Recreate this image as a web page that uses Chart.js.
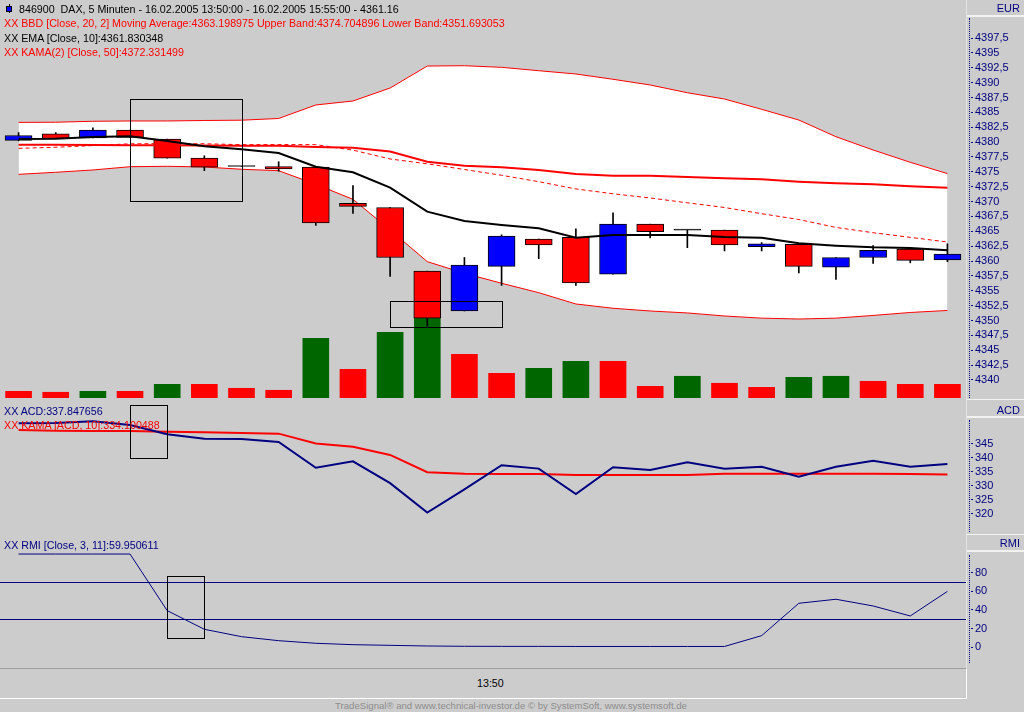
<!DOCTYPE html>
<html>
<head>
<meta charset="utf-8">
<title>846900 DAX, 5 Minuten</title>
<script src="https://cdn.jsdelivr.net/npm/chart.js@4.4.1/dist/chart.umd.min.js"></script>
<style>
  html, body { margin: 0; padding: 0; }
  body {
    width: 1024px; height: 712px; position: relative; overflow: hidden;
    background: #cccccc;
    font-family: 'Liberation Sans', Arial, sans-serif; font-size: 10.7px;
  }
  .pane { position: absolute; left: 0; width: 1024px; }
  .pane canvas { display: block; }
  .txt { position: absolute; white-space: pre; line-height: 14px; }
  .red { color: #ff0000; }
  .navy { color: #000080; }
  .black { color: #000000; }
  .headbox { position: absolute; left: 967px; width: 57px; box-sizing: border-box; }
  .head { position: absolute; right: 4px; line-height: 14px; color: #000080; font-size: 11px; }
  .dots { position: absolute; left: 969px; width: 0; border-left: 1px dotted #000080; }
</style>
</head>
<body>

<div class="pane" style="top:0px;height:398px"><canvas id="priceChart" width="1024" height="398"></canvas></div>
<div class="pane" style="top:400px;height:133px"><canvas id="acdChart" width="1024" height="133"></canvas></div>
<div class="pane" style="top:535px;height:133px"><canvas id="rmiChart" width="1024" height="133"></canvas></div>

<!-- right column -->
<div style="position:absolute;left:966px;top:0;width:1px;height:668px;background:#e4e4e4"></div>
<div class="headbox" style="top:0;height:17px;border-bottom:2px solid #f2f2f2"></div>
<div class="head" style="top:1px">EUR</div>
<div class="dots" style="top:18px;height:380px"></div>

<div class="headbox" style="top:399px;height:19px;border-top:1px solid #f2f2f2;border-bottom:2px solid #f2f2f2"></div>
<div class="head" style="top:403px">ACD</div>
<div class="dots" style="top:420px;height:112px"></div>

<div class="headbox" style="top:534px;height:18px;border-top:1px solid #f2f2f2;border-bottom:2px solid #f2f2f2"></div>
<div class="head" style="top:536px">RMI</div>
<div class="dots" style="top:555px;height:108px"></div>

<!-- legends -->
<div style="position:absolute;left:9px;top:4px;width:1px;height:9px;background:#000"></div>
<div style="position:absolute;left:6px;top:6px;width:6px;height:6px;box-sizing:border-box;background:#0000ff;border:1px solid #000"></div>
<div class="txt black" style="left:19px;top:2px">846900  DAX, 5 Minuten - 16.02.2005 13:50:00 - 16.02.2005 15:55:00 - 4361.16</div>
<div class="txt red" style="left:4px;top:16px">XX BBD [Close, 20, 2] Moving Average:4363.198975 Upper Band:4374.704896 Lower Band:4351.693053</div>
<div class="txt black" style="left:4px;top:30.5px">XX EMA [Close, 10]:4361.830348</div>
<div class="txt red" style="left:4px;top:45px">XX KAMA(2) [Close, 50]:4372.331499</div>

<div class="txt navy" style="left:4px;top:404px">XX ACD:337.847656</div>
<div class="txt red" style="left:4px;top:417.5px">XX KAMA [ACD, 10]:334.100488</div>

<div class="txt navy" style="left:4px;top:537.5px">XX RMI [Close, 3, 11]:59.950611</div>

<!-- time axis -->
<div style="position:absolute;left:0;top:668px;width:967px;height:31px;box-sizing:border-box;border-top:1px solid #a0a0a0;border-right:1px solid #ffffff;border-bottom:1px solid #ffffff"></div>
<div class="txt black" style="left:477px;top:675.5px">13:50</div>

<div style="position:absolute;left:0;top:700px;width:1022px;text-align:center;font-size:9.6px;line-height:11px;color:#8c8c8c;white-space:pre">TradeSignal® and www.technical-investor.de © by SystemSoft, www.systemsoft.de</div>

<script>
const NAVY = '#000080';
const RED = '#ff0000';
const BLUE = '#0000ff';
const GREEN = '#006600';
const FONT = "'Liberation Sans', Arial, sans-serif";

// 5 minute bars, 16.02.2005
const labels = ['13:50', '13:55', '14:00', '14:05', '14:10', '14:15', '14:20', '14:25', '14:30',
    '14:35', '14:40', '14:45', '14:50', '14:55', '15:00', '15:05', '15:10', '15:15', '15:20',
    '15:25', '15:30', '15:35', '15:40', '15:45', '15:50', '15:55'];

const opens  = [4380.3, 4381.4, 4380.7, 4382.0, 4380.5, 4377.3, 4375.9, 4375.9, 4375.8, 4369.7, 4369.0, 4358.3, 4351.6,
                4359.1, 4363.7, 4364.0, 4357.8, 4366.2, 4365.2, 4365.2, 4362.4, 4362.8, 4358.95, 4360.6, 4362.0, 4360.2];
const highs  = [4381.6, 4381.6, 4382.4, 4382.0, 4380.5, 4377.7, 4375.9, 4376.7, 4375.8, 4372.7, 4369.0, 4358.3, 4360.6,
                4364.4, 4363.7, 4365.4, 4368.1, 4366.2, 4365.2, 4365.2, 4363.1, 4362.8, 4360.6, 4362.6, 4362.0, 4362.9];
const lows   = [4380.2, 4380.6, 4380.7, 4380.8, 4377.3, 4375.2, 4375.9, 4375.1, 4366.0, 4368.0, 4357.4, 4349.0, 4351.6,
                4355.9, 4360.4, 4355.9, 4357.8, 4363.9, 4362.25, 4361.7, 4361.7, 4358.0, 4356.9, 4359.6, 4359.7, 4359.9];
const closes = [4381.1, 4380.6, 4382.0, 4380.8, 4377.3, 4375.8, 4375.9, 4375.5, 4366.4, 4369.2, 4360.6, 4350.4, 4359.3,
                4364.2, 4362.7, 4356.3, 4366.2, 4364.95, 4365.2, 4362.7, 4362.9, 4359.1, 4360.6, 4361.8, 4360.1, 4361.16];

const volumes  = [84, 72, 84, 84, 172, 172, 122, 97, 750, 360, 825, 1000, 549, 310, 373, 461, 461, 147, 273, 185, 134, 260, 273, 210, 172, 172];
const volumeUp = [0, 0, 1, 0, 1, 0, 0, 0, 1, 0, 1, 1, 0, 0, 1, 1, 0, 0, 1, 0, 0, 1, 1, 0, 0, 0];

const upperBand = [4383.31, 4383.34, 4383.50, 4383.55, 4383.55, 4383.63, 4383.68, 4383.97, 4386.24, 4386.91, 4389.09, 4392.79, 4392.84,
                   4392.57, 4392.00, 4391.45, 4390.56, 4389.60, 4388.30, 4387.24, 4385.51, 4383.71, 4380.90, 4378.67, 4376.60, 4374.70];
const lowerBand = [4374.58, 4374.92, 4375.31, 4375.86, 4375.93, 4375.81, 4375.43, 4375.19, 4372.90, 4370.38, 4365.22, 4359.90, 4357.94,
                   4356.26, 4354.68, 4352.78, 4352.06, 4351.60, 4351.27, 4350.76, 4350.40, 4350.25, 4350.40, 4350.85, 4351.35, 4351.69];
const movingAvg = [4378.95, 4379.13, 4379.41, 4379.71, 4379.74, 4379.72, 4379.56, 4379.58, 4379.57, 4378.65, 4377.16, 4376.35, 4375.39,
                   4374.42, 4373.34, 4372.12, 4371.31, 4370.60, 4369.79, 4369.00, 4367.96, 4366.98, 4365.65, 4364.76, 4363.98, 4363.20];
const kama      = [4379.55, 4379.55, 4379.53, 4379.48, 4379.45, 4379.42, 4379.40, 4379.38, 4379.17, 4379.05, 4378.40, 4376.70, 4376.03,
                   4375.76, 4375.30, 4374.64, 4374.35, 4374.35, 4374.13, 4373.91, 4373.74, 4373.34, 4373.07, 4372.90, 4372.57, 4372.33];
const ema       = [4380.52, 4380.57, 4380.86, 4380.97, 4380.18, 4379.30, 4378.79, 4378.17, 4375.86, 4374.92, 4372.33, 4368.30, 4366.73,
                   4366.06, 4365.50, 4363.93, 4364.38, 4364.38, 4364.38, 4364.04, 4363.93, 4362.98, 4362.58, 4362.31, 4362.20, 4361.83];

const acd     = [352.4, 352.5, 353.1, 351.8, 348.5, 346.9, 346.8, 345.7, 336.5, 338.8, 331.0, 320.5, 328.8,
                 337.4, 336.2, 327.1, 336.7, 335.7, 338.5, 336.2, 336.9, 333.3, 336.9, 339.0, 336.9, 337.85];
const acdKama = [350.0, 349.7, 349.6, 349.6, 349.4, 349.2, 348.9, 348.7, 345.2, 344.0, 341.1, 334.9, 334.4,
                 334.3, 334.3, 333.9, 333.9, 333.9, 333.9, 334.4, 334.4, 334.4, 334.4, 334.4, 334.3, 334.10];

const rmi       = [100, 100, 100, 100, 39.3, 19.3, 11.4, 7.1, 4.3, 2.8, 2.1, 1.4, 1.1,
                   1.0, 1.0, 0.9, 0.9, 0.9, 0.9, 0.9, 12.5, 47.2, 51.5, 44.3, 33.6, 59.95];
const rmiLevels = [70, 30];

// marker boxes: [from bar, to bar, top value, bottom value]
const priceBoxes = [[3, 6, 4387.2, 4370.1], [10, 13, 4353.2, 4348.9]];
const acdBoxes   = [[3, 4, 358.8, 339.9]];
const rmiBoxes   = [[4, 5, 76.5, 10.3]];

const priceTicks = [4340, 4342.5, 4345, 4347.5, 4350, 4352.5, 4355, 4357.5, 4360, 4362.5, 4365, 4367.5,
                    4370, 4372.5, 4375, 4377.5, 4380, 4382.5, 4385, 4387.5, 4390, 4392.5, 4395, 4397.5];
const acdTicks = [320, 325, 330, 335, 340, 345];
const rmiTicks = [0, 20, 40, 60, 80];

Chart.defaults.font.family = FONT;
Chart.defaults.font.size = 11;

function marks(boxes, levels) {
    return {
        id: 'marks',
        beforeDatasetsDraw(chart) {
            const { ctx, chartArea, scales: { y } } = chart;
            ctx.save();
            ctx.strokeStyle = NAVY;
            ctx.lineWidth = 1;
            levels.forEach(v => {
                const py = Math.round(y.getPixelForValue(v)) + 0.5;
                ctx.beginPath();
                ctx.moveTo(chartArea.left, py);
                ctx.lineTo(chartArea.right, py);
                ctx.stroke();
            });
            ctx.restore();
        },
        afterDatasetsDraw(chart) {
            const { ctx, scales: { x, y } } = chart;
            ctx.save();
            ctx.strokeStyle = '#000';
            ctx.lineWidth = 1;
            boxes.forEach(([from, to, top, bottom]) => {
                const x0 = Math.round(x.getPixelForValue(from)) + 0.5;
                const x1 = Math.round(x.getPixelForValue(to)) + 0.5;
                const y0 = Math.round(y.getPixelForValue(top)) + 0.5;
                const y1 = Math.round(y.getPixelForValue(bottom)) + 0.5;
                ctx.strokeRect(x0, y0, x1 - x0, y1 - y0);
            });
            ctx.restore();
        }
    };
}

function sideAxis(min, max, tickValues, fmt) {
    return {
        position: 'right',
        min: min,
        max: max,
        bounds: 'data',
        afterBuildTicks: axis => { axis.ticks = tickValues.map(v => ({ value: v })); },
        afterFit: axis => { axis.width = 58; axis.paddingTop = 0; axis.paddingBottom = 0; },
        border: { display: false },
        grid: {
            drawOnChartArea: false,
            drawTicks: true,
            tickLength: 7,
            tickWidth: 1,
            tickColor: NAVY,
            tickBorderDash: [0, 5, 2, 20]
        },
        ticks: { color: NAVY, padding: 2, autoSkip: false, font: { family: FONT, size: 11 }, callback: fmt }
    };
}

const hiddenX = { type: 'category', offset: true, display: false };
const baseOptions = {
    responsive: false,
    animation: false,
    devicePixelRatio: 1,
    events: [],
    layout: { padding: 0 },
    plugins: { legend: { display: false }, tooltip: { enabled: false } }
};
const lineSet = (data, color, width, extra) => Object.assign({
    type: 'line', data: data, borderColor: color, borderWidth: width,
    pointRadius: 0, fill: false, tension: 0
}, extra || {});

const bodyColors = labels.map((_, i) => closes[i] > opens[i] ? BLUE : (closes[i] < opens[i] ? RED : '#000'));

new Chart(document.getElementById('priceChart'), {
    type: 'bar',
    data: {
        labels: labels,
        datasets: [
            lineSet(upperBand, RED, 1, { fill: '+1', backgroundColor: '#ffffff', order: 10 }),
            lineSet(lowerBand, RED, 1, { order: 9 }),
            {
                type: 'bar', data: volumes, yAxisID: 'yv', grouped: false, barThickness: 26,
                backgroundColor: volumeUp.map(u => u ? GREEN : RED), borderWidth: 0, order: 8
            },
            {
                type: 'bar', data: labels.map((_, i) => [lows[i], highs[i]]), grouped: false, barThickness: 1,
                backgroundColor: '#000', borderWidth: 0, order: 7
            },
            {
                type: 'bar', data: labels.map((_, i) => [opens[i], closes[i]]), grouped: false, barThickness: 27,
                backgroundColor: bodyColors, borderColor: '#000', borderWidth: 1, borderSkipped: false,
                minBarLength: 1, order: 6
            },
            lineSet(movingAvg, RED, 1, { borderDash: [4, 3], order: 5 }),
            lineSet(kama, RED, 2, { order: 4 }),
            lineSet(ema, '#000', 2, { order: 3 })
        ]
    },
    options: Object.assign({}, baseOptions, {
        scales: {
            x: hiddenX,
            y: sideAxis(4336.97, 4403.89, priceTicks,
                v => Number.isInteger(v) ? String(v) : v.toFixed(1).replace('.', ',')),
            yv: { display: false, min: 0, max: 5000 }
        }
    }),
    plugins: [marks(priceBoxes, [])]
});

new Chart(document.getElementById('acdChart'), {
    type: 'line',
    data: {
        labels: labels,
        datasets: [
            lineSet(acdKama, RED, 2, { order: 2 }),
            lineSet(acd, NAVY, 2, { order: 1 })
        ]
    },
    options: Object.assign({}, baseOptions, {
        scales: { x: hiddenX, y: sideAxis(313.21, 360.71, acdTicks, v => String(v)) }
    }),
    plugins: [marks(acdBoxes, [])]
});

new Chart(document.getElementById('rmiChart'), {
    type: 'line',
    data: {
        labels: labels,
        datasets: [lineSet(rmi, NAVY, 1)]
    },
    options: Object.assign({}, baseOptions, {
        scales: { x: hiddenX, y: sideAxis(-22.2, 120.4, rmiTicks, v => String(v)) }
    }),
    plugins: [marks(rmiBoxes, rmiLevels)]
});
</script>
</body>
</html>
